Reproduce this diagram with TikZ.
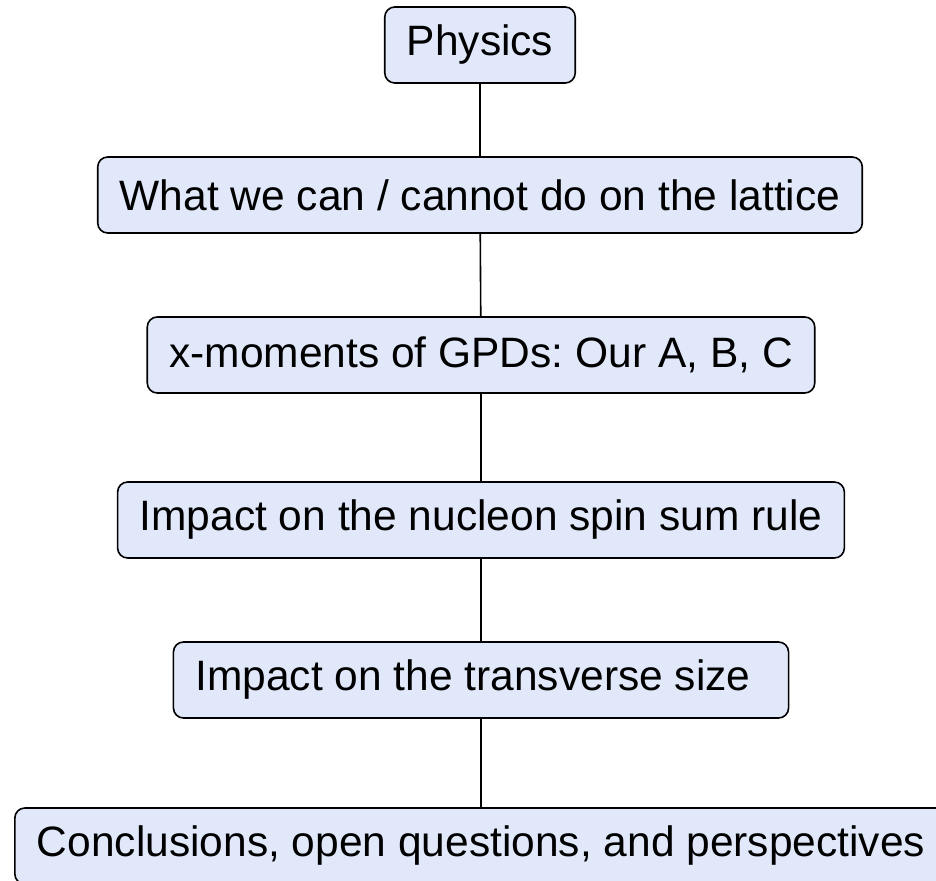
\documentclass[tikz,border=0pt]{standalone}
\usepackage{fontspec}
\setmainfont{Liberation Sans}
\frenchspacing
\definecolor{boxfill}{HTML}{E0E8FA}
\tikzset{
  topic/.style={draw, line width=1.6pt, rounded corners=10pt, fill=boxfill,
    minimum height=76pt, inner xsep=22pt, inner ysep=0pt},
  link/.style={line width=1.6pt}
}
\begin{document}
\begin{tikzpicture}[x=1pt, y=-1pt, font=\fontsize{42.5}{48}\selectfont]
  \useasboundingbox (0,0) rectangle (936,880);
  % outline
  \node[topic] (physics) at (480,45) {Physics};
  \node[topic] (lattice) at (480,195) {What we can / cannot do on the lattice};
  \node[topic] (moments) at (481,355) {x-moments of GPDs: Our A, B, C};
  \node[topic] (spin) at (481,520) {Impact on the nucleon spin sum rule};
  \node[topic] (size) at (481,680) {Impact on the transverse size\kern16pt};
  \node[topic] (concl) at (481,846) {Conclusions, open questions, and perspectives};
  % links
  \draw[link] (physics) -- (lattice);
  \draw[link] (lattice) -- (moments);
  \draw[link] (moments) -- (spin);
  \draw[link] (spin) -- (size);
  \draw[link] (size) -- (concl);
\end{tikzpicture}
\end{document}
